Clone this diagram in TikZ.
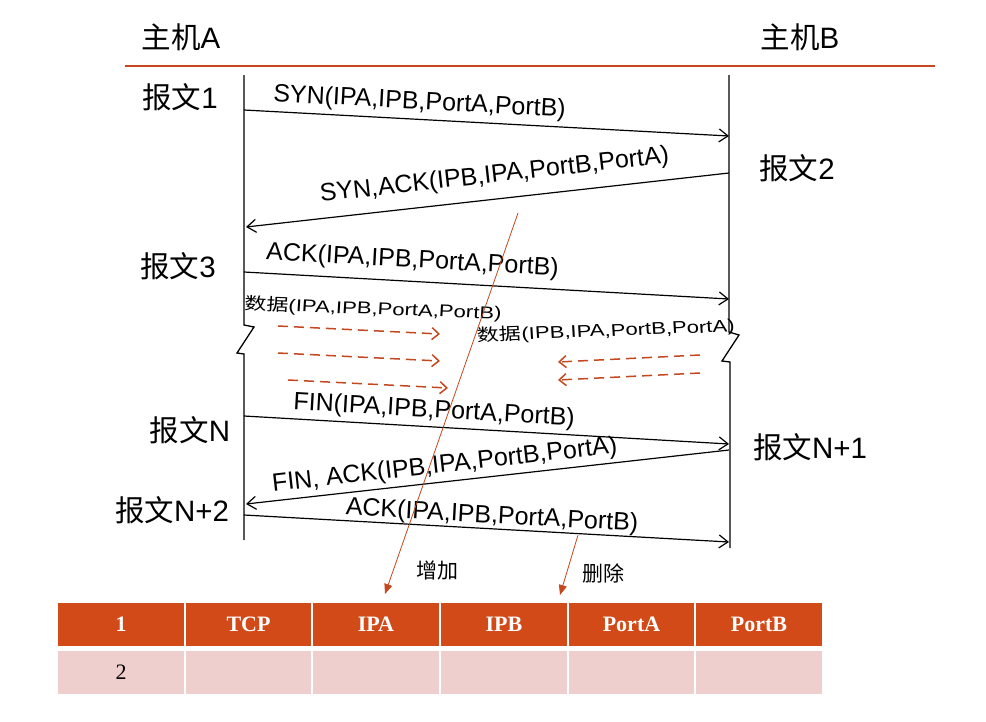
\documentclass[tikz,border=0pt]{standalone}
\usepackage{fontspec}
\setmainfont{Liberation Sans}
\newfontfamily\cjk{Noto Sans CJK SC}
\newfontfamily\tabfont{Liberation Serif}
\usetikzlibrary{arrows.meta}
\definecolor{rust}{HTML}{C4471D}
\definecolor{headcell}{HTML}{D14A18}
\definecolor{bodycell}{HTML}{EFCFCD}

\begin{document}
\begin{tikzpicture}[x=1pt,y=-1pt,
  msg/.style={line width=1.2pt,-{Straight Barb[length=9pt,width=13pt,line width=1.2pt]}},
  lbl/.style={font=\fontsize{25}{28}\selectfont,sloped,inner sep=1pt},
  host/.style={font=\fontsize{29.5}{33}\selectfont},
  datalbl/.style={font=\fontsize{17}{20}\selectfont,xscale=1.3,inner sep=0pt},
  flow/.style={draw=rust,line width=1.5pt,dash pattern=on 10pt off 6pt,-{Straight Barb[length=7pt,width=12pt,line width=1.5pt]}},
  note/.style={draw=rust,line width=0.8pt,-{Triangle[length=10pt,width=8pt]}},
  cell/.style={minimum width=125.5pt,minimum height=43pt,inner sep=0pt,fill=bodycell,font=\tabfont\fontsize{22}{26}\selectfont},
  headcell/.style={cell,fill=headcell,text=white,font=\tabfont\bfseries\fontsize{22}{26}\selectfont}]
\useasboundingbox (0,0) rectangle (986,721);

\node[host] (hosta) at (181,37) {{\cjk 主机}A};
\node[host] (hostb) at (800,37) {{\cjk 主机}B};
\draw[rust,line width=2pt] (125,66) -- (935,66);

\draw[line width=1.3pt] (244,75) -- (244,325) -- (254,327) -- (237,353) -- (244,354) -- (244,540);
\draw[line width=1.3pt] (729,75) -- (729,332) -- (739,335) -- (722,361) -- (730,362) -- (730,548);

\node[host] (p1) at (180,97) {{\cjk 报文}1};
\node[host] (p2) at (797,168) {{\cjk 报文}2};
\node[host] (p3) at (178,266) {{\cjk 报文}3};
\node[host] (pn) at (190,430) {{\cjk 报文}N};
\node[host] (pn1) at (810,447) {{\cjk 报文}N+1};
\node[host] (pn2) at (172,510) {{\cjk 报文}N+2};

\coordinate (m1a) at (244,110); \coordinate (m1b) at (729,136);
\coordinate (m2a) at (729,173); \coordinate (m2b) at (246,227);
\coordinate (m3a) at (244,272); \coordinate (m3b) at (729,299);
\coordinate (m4a) at (244,416); \coordinate (m4b) at (729,444);
\coordinate (m5a) at (729,450); \coordinate (m5b) at (246,504);
\coordinate (m6a) at (244,515); \coordinate (m6b) at (729,542);

\draw[msg] (m1a) -- node[lbl,pos=0.36,above=3.5pt] {SYN(IPA,IPB,PortA,PortB)} (m1b);
\draw[msg] (m2a) -- node[lbl,pos=0.48,above=10pt] {SYN,ACK(IPB,IPA,PortB,PortA)} (m2b);
\draw[msg] (m3a) -- node[lbl,pos=0.345,above=7pt] {ACK(IPA,IPB,PortA,PortB)} (m3b);
\draw[msg] (m4a) -- node[lbl,pos=0.39,above=2.5pt] {FIN(IPA,IPB,PortA,PortB)} (m4b);
\draw[msg] (m5a) -- node[lbl,pos=0.585,above=2.5pt] {FIN, ACK(IPB,IPA,PortB,PortA)} (m5b);
\draw[msg] (m6a) -- node[lbl,pos=0.51,above=-1pt] {ACK(IPA,IPB,PortA,PortB)} (m6b);

\node[datalbl,rotate=-2.7] (dataab) at (373,309) {{\cjk 数据}(IPA,IPB,PortA,PortB)};
\node[datalbl,rotate=2.7] (databa) at (606,331) {{\cjk 数据}(IPB,IPA,PortB,PortA)};

\foreach \xa/\ya/\xb/\yb [count=\i] in {278/326/440/334, 278/353/440/361, 288/380/448/388, 700/355/558/362, 700/373/558/380} {
  \coordinate (fs\i) at (\xa,\ya);
  \coordinate (fe\i) at (\xb,\yb);
  \draw[flow] (fs\i) -- (fe\i);
}

\node[headcell] (c11) at (121,624.5) {1};
\node[headcell] (c12) at (248.5,624.5) {TCP};
\node[headcell] (c13) at (376,624.5) {IPA};
\node[headcell] (c14) at (504,624.5) {IPB};
\node[headcell] (c15) at (631.5,624.5) {PortA};
\node[headcell] (c16) at (759,624.5) {PortB};
\node[cell] (c21) at (121,672.5) {2};
\node[cell] (c22) at (248.5,672.5) {};
\node[cell] (c23) at (376,672.5) {};
\node[cell] (c24) at (504,672.5) {};
\node[cell] (c25) at (631.5,672.5) {};
\node[cell] (c26) at (759,672.5) {};

\coordinate (addtop) at (518,213);
\coordinate (deltop) at (578,535);
\draw[note] (addtop) -- (385,594);
\draw[note] (deltop) -- (560,595);
\node[font=\fontsize{21}{24}\selectfont\cjk] (add) at (437,571) {增加};
\node[font=\fontsize{21}{24}\selectfont\cjk] (del) at (603,573) {删除};
\end{tikzpicture}
\end{document}
